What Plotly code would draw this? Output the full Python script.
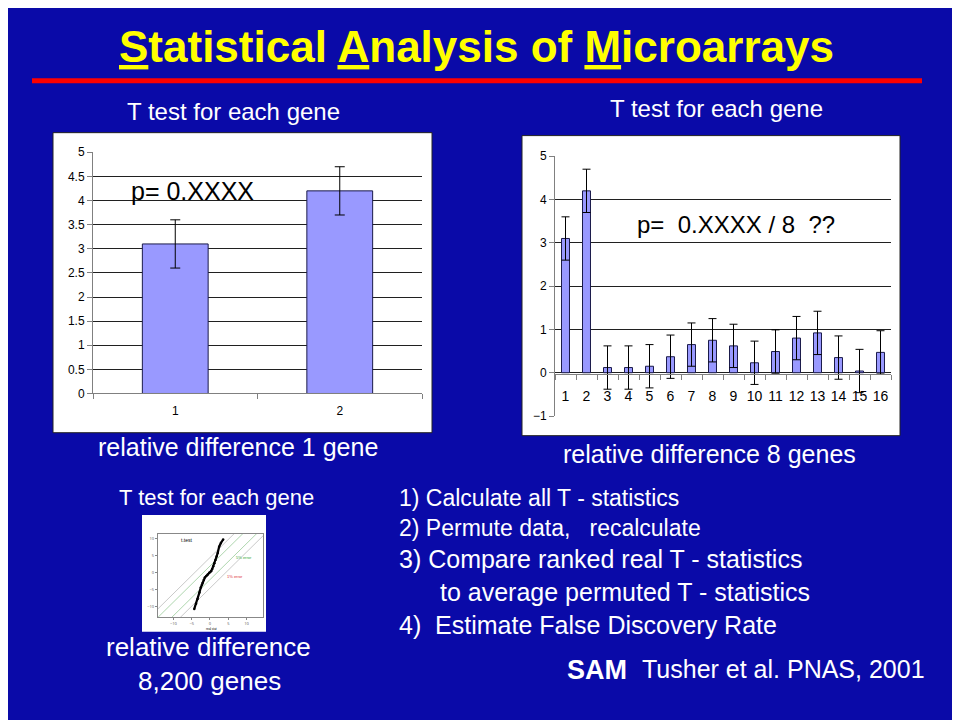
import plotly.graph_objects as go

# ---------------- data ----------------
left_cats = ["1", "2"]
left_vals = [3.1, 4.2]
left_err = [0.5, 0.5]

right_cats = [str(i) for i in range(1, 17)]
right_vals = [3.1, 4.2, 0.12, 0.12, 0.15, 0.37, 0.65, 0.75, 0.62, 0.23, 0.49, 0.80, 0.92, 0.35, 0.04, 0.47]
right_err = [0.5] * 16

qq_x = [-4.3, -3.8, -3.4, -2.9, -2.5, -2.2, -2.0, -1.7, -1.4, -1.0, -0.6, -0.2, 0.3, 0.6, 0.9, 1.2, 1.5, 1.8, 2.1, 2.5, 3.0, 3.6]
qq_y = [-10.6, -9.1, -7.7, -5.8, -4.3, -3.5, -2.9, -2.1, -1.4, -0.9, -0.5, 0.0, 0.5, 1.1, 1.9, 2.8, 3.8, 4.8, 5.8, 7.7, 8.8, 9.8]
band_offsets = [4.5, 2.0, -2.0, -4.5]
band_colors = ["#bbbbbb", "#99cc99", "#99cc99", "#bbbbbb"]
qq_xrange = [-14.3, 14.5]
qq_yrange = [-13.0, 11.5]
qq_ticks = [-10, -5, 0, 5, 10]

W, H = 960, 720
BG = "#0A0AA8"
FONT = "Arial, Liberation Sans, sans-serif"
OFF = 8  # page body margin offset


def px(x):
    return (x - OFF) / W


def py(y):
    return 1 - (y - OFF) / H


fig = go.Figure()

# left chart
fig.add_trace(go.Bar(
    x=left_cats, y=left_vals, xaxis="x", yaxis="y",
    marker=dict(color="#9999FF", line=dict(color="#1a1a4a", width=1)),
    error_y=dict(type="data", array=left_err, color="#000000", thickness=1, width=5),
    width=0.4, showlegend=False, hoverinfo="skip"))

# right chart
fig.add_trace(go.Bar(
    x=right_cats, y=right_vals, xaxis="x2", yaxis="y2",
    marker=dict(color="#9999FF", line=dict(color="#1a1a4a", width=1)),
    error_y=dict(type="data", array=right_err, color="#000000", thickness=1, width=4),
    width=0.38, showlegend=False, hoverinfo="skip"))

# inset qq plot
for c, col in zip(band_offsets, band_colors):
    bx = list(qq_xrange)
    by = [1.06 * v + c for v in bx]
    fig.add_trace(go.Scatter(x=bx, y=by, xaxis="x3", yaxis="y3", mode="lines",
                             line=dict(color=col, width=0.8), showlegend=False, hoverinfo="skip"))
fig.add_trace(go.Scatter(x=qq_x, y=qq_y, xaxis="x3", yaxis="y3", mode="lines+markers",
                         line=dict(color="#000000", width=2.2),
                         marker=dict(size=2.5, color="#000000"),
                         showlegend=False, hoverinfo="skip"))

shapes = []
# white chart frames
shapes.append(dict(type="rect", xref="paper", yref="paper", x0=px(53), x1=px(432), y0=py(434), y1=py(128),
                   fillcolor="white", line=dict(color="#222222", width=1), layer="below"))
shapes.append(dict(type="rect", xref="paper", yref="paper", x0=px(522), x1=px(900), y0=py(437), y1=py(131),
                   fillcolor="white", line=dict(color="#222222", width=1), layer="below"))
shapes.append(dict(type="rect", xref="paper", yref="paper", x0=px(142), x1=px(266), y0=py(637), y1=py(518),
                   fillcolor="white", line=dict(width=0), layer="below"))
# red rule under title
shapes.append(dict(type="line", xref="paper", yref="paper", x0=px(32), x1=px(922), y0=py(75), y1=py(75),
                   line=dict(color="#FF0000", width=5)))

ann = []


def txt(x, y, s, size, color="white", xanchor="center", bold=False, family=FONT, xref="paper", yref="paper"):
    ann.append(dict(x=x, y=y, xref=xref, yref=yref, text=("<b>%s</b>" % s) if bold else s,
                    showarrow=False, xanchor=xanchor, yanchor="middle",
                    font=dict(size=size, color=color, family=family)))


txt(px(476), py(40), "<u>S</u>tatistical <u>A</u>nalysis of <u>M</u>icroarrays", 44, color="#FFFF00", bold=True)
txt(px(233), py(106), "T test for each gene", 24)
txt(px(716), py(103), "T test for each gene", 24)
txt(px(238), py(449), "relative difference 1 gene", 25)
txt(px(709), py(456), "relative difference 8 genes", 25)
txt(px(216), py(500), "T test for each gene", 22)
txt(px(208), py(653), "relative difference", 26)
txt(px(209), py(687), "8,200 genes", 26)
txt(px(397), py(501), "1) Calculate all T - statistics", 23, xanchor="left")
txt(px(397), py(531), "2) Permute data,   recalculate", 23, xanchor="left")
txt(px(397), py(563), "3) Compare ranked real T - statistics", 25, xanchor="left")
txt(px(438), py(596), "to average permuted T - statistics", 25, xanchor="left")
txt(px(397), py(630), "4)  Estimate False Discovery Rate", 25, xanchor="left")
txt(px(565), py(676), "SAM", 27, xanchor="left", bold=True)
txt(px(640), py(675), "Tusher et al. PNAS, 2001", 25, xanchor="left")
# in-chart texts
txt(px(129), py(187), "p= 0.XXXX", 25, color="black", xanchor="left")
txt(px(635), py(222), "p=  0.XXXX / 8  ??", 24, color="black", xanchor="left")
# inset labels
txt(-6.4, 9.6, "t.test", 5, color="black", xref="x3", yref="y3")
txt(9.4, 4.5, "5% error", 4, color="#33aa33", xref="x3", yref="y3")
txt(6.8, -1.0, "1% error", 4, color="#dd3333", xref="x3", yref="y3")
txt(px(211), py(634), "real stat", 3, color="black")

axis_common = dict(showline=True, linecolor="#808080", linewidth=1, ticks="outside", ticklen=5,
                   tickcolor="#808080")

fig.update_layout(
    width=W, height=H, margin=dict(l=0, r=0, t=0, b=0),
    paper_bgcolor=BG, plot_bgcolor="#C0C0C0",
    bargap=0.6,
    xaxis=dict(domain=[px(93), px(422)], anchor="y", type="category", tickson="boundaries",
               showgrid=False, tickangle=0, ticklabelstandoff=6,
               tickfont=dict(family=FONT, size=12, color="black"), **axis_common),
    yaxis=dict(domain=[py(394), py(148)], anchor="x", range=[0, 5], dtick=0.5, showgrid=True,
               gridcolor="#202020", gridwidth=1, zeroline=False,
               tickfont=dict(family=FONT, size=12, color="black"), **axis_common),
    xaxis2=dict(domain=[px(555), px(891)], anchor="free", position=py(374), type="category",
                tickson="boundaries", showgrid=False, tickangle=0, ticklabelstandoff=9,
                tickfont=dict(family=FONT, size=14, color="black"), **axis_common),
    yaxis2=dict(domain=[py(417), py(152)], anchor="x2", range=[-1, 5], dtick=1, showgrid=True,
                gridcolor="#202020", gridwidth=1, zeroline=False,
                tickfont=dict(family=FONT, size=12, color="black"), **axis_common),
    xaxis3=dict(domain=[px(157.7), px(263)], anchor="y3", range=qq_xrange, tickvals=qq_ticks,
                showgrid=False, zeroline=False, showline=True, mirror=True, linecolor="#888888", linewidth=0.5,
                ticks="outside", ticklen=2, tickcolor="#888888", tickfont=dict(size=4, color="#555555")),
    yaxis3=dict(domain=[py(622), py(537)], anchor="x3", range=qq_yrange, tickvals=qq_ticks,
                showgrid=False, zeroline=False, showline=True, mirror=True, linecolor="#888888", linewidth=0.5,
                ticks="outside", ticklen=2, tickcolor="#888888", tickfont=dict(size=4, color="#555555")),
    shapes=shapes, annotations=ann,
)
fig.add_shape(type="rect", xref="x3 domain", yref="y3 domain", x0=0, x1=1, y0=0, y1=1,
              fillcolor="white", line=dict(width=0), layer="below")

fig.write_html("out.html")
